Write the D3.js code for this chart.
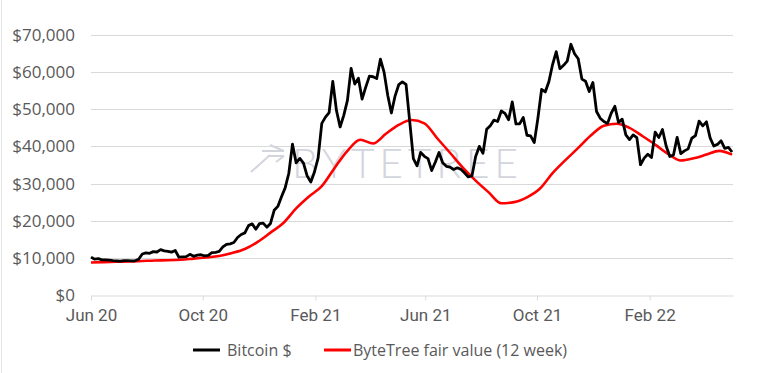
<!DOCTYPE html>
<html>
<head>
<meta charset="utf-8">
<script src="https://cdn.jsdelivr.net/npm/d3@7"></script>
<style>
  html, body { margin: 0; padding: 0; background: #fff; }
  svg { display: block; }
</style>
</head>
<body>
<svg width="768" height="373"></svg>
<script>
// Bitcoin price, one reading every 4 days from 1 Jun 2020
const btcStart = '2020-06-01';
const btcStepDays = 4;
const btcPrices = [
  10200, 9650, 9780, 9470, 9450, 9370, 9250, 9190, 9090, 9250,
  9240, 9190, 9210, 9610, 11030, 11350, 11220, 11680, 11580, 12200,
  11870, 11760, 11540, 11970, 10170, 10240, 10330, 10950, 10420, 10740,
  10840, 10550, 10670, 11380, 11500, 11750, 12930, 13650, 13780, 14130,
  15480, 16300, 16720, 18680, 19160, 17720, 19220, 19360, 18260, 19270,
  22800, 23850, 26440, 28840, 32780, 40600, 35570, 36770, 35510, 32070,
  30430, 33110, 36940, 46200, 47900, 49130, 57500, 49700, 45240, 48380,
  52390, 61000, 56800, 58350, 52770, 55950, 58920, 58760, 58270, 63500,
  60000, 53800, 49000, 53560, 56620, 57350, 56700, 46760, 36700, 34770,
  38400, 37340, 36700, 33500, 35800, 38350, 35600, 34650, 34430, 33800,
  34240, 33820, 32820, 31780, 32110, 37290, 40000, 38150, 44600, 45590,
  47100, 46720, 49550, 48900, 47170, 52000, 46060, 46060, 47790, 43010,
  42840, 41030, 47670, 55360, 54660, 57480, 62040, 65500, 60930, 61840,
  62970, 67500, 64950, 63600, 58120, 57540, 54770, 57230, 49400, 47600,
  46700, 46200, 48940, 50800, 46460, 47340, 43100, 41830, 43100, 42370,
  35080, 36850, 37900, 37000, 43840, 42410, 44540, 40120, 37300, 37710,
  42450, 38060, 38800, 39340, 42200, 42900, 46820, 45540, 46620, 42300,
  40120, 40550, 41500, 39470, 39740, 38500
];

// ByteTree fair value (12 week), one reading every 14 days from 1 Jun 2020
const fairStart = '2020-06-01';
const fairStepDays = 14;
const fairValues = [
  8750, 8850, 8950, 9000, 9150, 9300, 9350, 9500, 9800, 10100,
  10500, 11300, 12400, 14300, 16800, 19400, 23300, 26500, 29300, 34200,
  38800, 41800, 40800, 43400, 45800, 47100, 46200, 42200, 38300, 34300,
  30800, 27700, 24700, 25000, 26300, 28600, 32800, 36300, 39600, 43000,
  45600, 46100, 45000, 42800, 40500, 38000, 36200, 36800, 37800, 38800,
  37800
];

const xTickDates = ['2020-06-01', '2020-10-01', '2021-02-01', '2021-06-01', '2021-10-01', '2022-02-01'];
const yTicks = [0, 10000, 20000, 30000, 40000, 50000, 60000, 70000];
const xDomain = ['2020-06-01', '2022-05-03'];
const seriesNames = ['Bitcoin $', 'ByteTree fair value (12 week)'];
const seriesColors = ['#000000', '#ff0000'];

const parse = d3.utcParse('%Y-%m-%d');
const toSeries = (start, step, values) => values.map((v, i) => ({
  date: d3.utcDay.offset(parse(start), i * step),
  value: v
}));
const btc = toSeries(btcStart, btcStepDays, btcPrices);
const fair = toSeries(fairStart, fairStepDays, fairValues);

const svg = d3.select('svg');
const mLeft = 91, mRight = 733, mTop = 35, mBottom = 295;
const gray = '#595959';
const gridColor = '#d9d9d9';

const x = d3.scaleUtc().domain(xDomain.map(parse)).range([mLeft, mRight]);
const y = d3.scaleLinear().domain([0, 70000]).range([mBottom, mTop]);

// frame edge on the left
svg.append('line')
  .attr('x1', 1.5).attr('x2', 1.5).attr('y1', 0).attr('y2', 373)
  .attr('stroke', '#e4e4e4').attr('stroke-width', 1);

// gridlines
svg.append('g')
  .selectAll('line')
  .data(yTicks.filter(d => d > 0))
  .join('line')
  .attr('x1', mLeft).attr('x2', mRight)
  .attr('y1', d => Math.round(y(d)) + 0.5).attr('y2', d => Math.round(y(d)) + 0.5)
  .attr('stroke', gridColor).attr('stroke-width', 1);

// y axis labels
const yAxis = svg.append('g')
  .attr('transform', 'translate(' + mLeft + ',0)')
  .call(d3.axisLeft(y).tickValues(yTicks).tickSize(0).tickPadding(16)
    .tickFormat(d => '$' + d3.format(',')(d)));
yAxis.select('.domain').remove();
yAxis.selectAll('text')
  .attr('fill', gray)
  .style('font-family', '"Open Sans", sans-serif')
  .style('font-size', '17px');

// x axis
const xAxis = svg.append('g')
  .attr('transform', 'translate(0,' + (mBottom + 0.5) + ')')
  .call(d3.axisBottom(x).tickValues(xTickDates.map(parse)).tickSize(5).tickSizeOuter(0)
    .tickPadding(8).tickFormat(d3.utcFormat('%b %y')));
xAxis.select('.domain').attr('stroke', gridColor);
xAxis.selectAll('.tick line').attr('stroke', gridColor);
xAxis.selectAll('text')
  .attr('fill', gray)
  .style('font-family', 'Roboto, sans-serif')
  .style('font-size', '17px');

// watermark
const wm = svg.append('g').attr('fill', 'none').attr('stroke', '#d3d5dd').attr('stroke-width', 2);
wm.append('path').attr('d', 'M251,172 L270,155 M262,151 L284,151 M268,156 L284,156 M276,162 L284,156 M270,145 L284,151');
svg.append('text')
  .attr('x', 292).attr('y', 178)
  .attr('textLength', 226).attr('lengthAdjust', 'spacing')
  .attr('fill', '#d3d5dd')
  .style('font-family', 'Lato, sans-serif')
  .style('font-weight', 300)
  .style('font-size', '41px')
  .text('BYTETREE');

// lines
const line = d3.line().x(d => x(d.date)).y(d => y(d.value));
svg.append('path')
  .datum(fair)
  .attr('fill', 'none')
  .attr('stroke', seriesColors[1])
  .attr('stroke-width', 2.6)
  .attr('stroke-linejoin', 'round')
  .attr('d', line.curve(d3.curveMonotoneX));
svg.append('path')
  .datum(btc)
  .attr('fill', 'none')
  .attr('stroke', seriesColors[0])
  .attr('stroke-width', 2.8)
  .attr('stroke-linejoin', 'round')
  .attr('d', line.curve(d3.curveLinear));

// legend
const legendX = [193, 324];
const legend = svg.append('g');
seriesNames.forEach((name, i) => {
  legend.append('line')
    .attr('x1', legendX[i]).attr('x2', legendX[i] + 27)
    .attr('y1', 350).attr('y2', 350)
    .attr('stroke', seriesColors[i]).attr('stroke-width', 3);
  legend.append('text')
    .attr('x', legendX[i] + (i === 0 ? 34 : 29)).attr('y', 356)
    .attr('fill', gray)
    .style('font-family', '"Open Sans", sans-serif')
    .style('font-size', '16px')
    .text(name);
});
</script>
</body>
</html>
